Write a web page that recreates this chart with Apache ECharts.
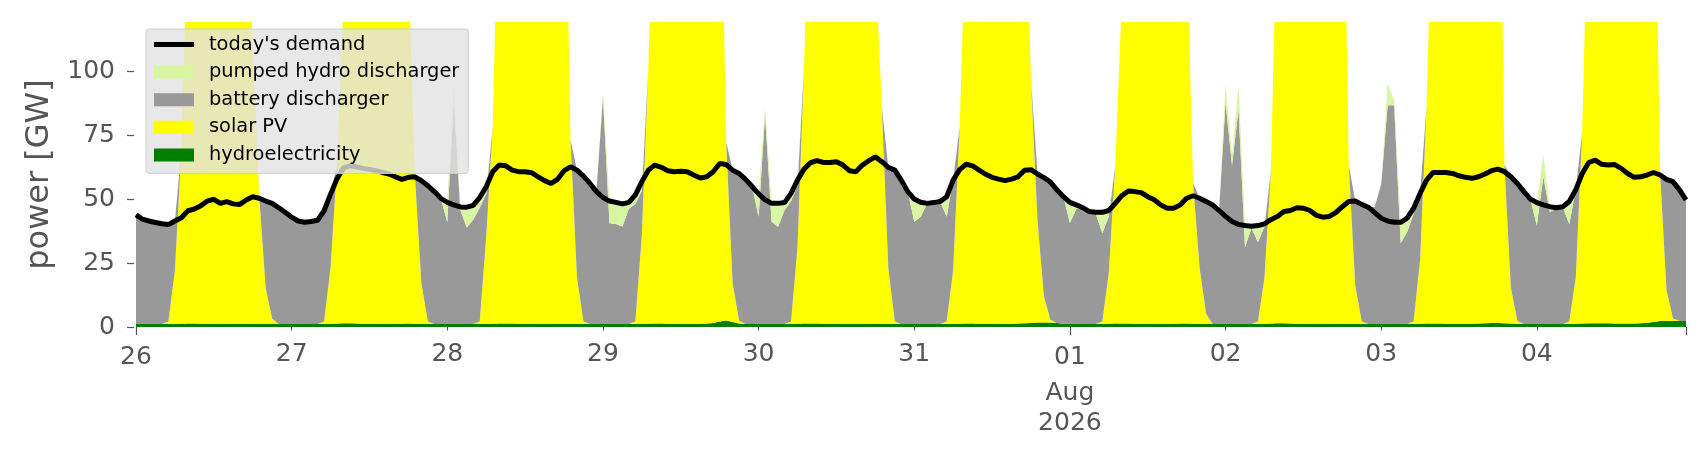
<!DOCTYPE html>
<html>
<head>
<meta charset="utf-8">
<script src="https://cdn.jsdelivr.net/npm/echarts@6/dist/echarts.min.js"></script>
<style>
html,body{margin:0;padding:0;background:#ffffff;}
#chart{width:1706px;height:460px;}
</style>
</head>
<body>
<div id="chart"></div>
<script>
// ---- tick labels ----
const dayLabels = ['26','27','28','29','30','31','01','02','03','04'];
const monthLabel = 'Aug';
const yearLabel = '2026';
const yTickValues = [0, 25, 50, 75, 100];

// ---- hourly series values (GW), one row per day, 26 Jul .. 04 Aug ----
const demand = [
 43.9,42.2,41.5,40.9,40.4,40.1,41.5,42.8,45.5,46.2,47.5,49.3,50.0,48.4,49.1,48.2,48.0,49.7,51.0,50.4,49.3,48.4,46.7,44.9,
 43.0,41.5,41.0,41.3,41.8,45.5,52.0,58.0,62.3,63.1,62.7,62.1,61.7,61.2,60.5,59.9,58.8,57.8,58.6,58.8,57.3,55.3,53.0,50.4,
 48.8,47.8,47.0,46.9,47.6,50.7,54.9,60.8,63.4,63.1,61.4,60.8,60.8,60.4,58.8,57.3,56.2,57.8,61.2,62.7,61.4,59.1,56.2,53.0,
 50.7,49.3,48.8,48.2,48.8,51.7,56.9,61.4,63.4,62.5,61.2,60.8,61.0,60.8,59.5,58.3,58.8,60.8,64.0,63.6,61.4,60.1,57.8,55.0,
 52.1,49.8,48.4,48.4,48.7,52.3,57.5,61.8,64.3,65.1,64.4,64.4,64.7,63.4,61.2,60.8,63.4,65.1,66.6,64.7,62.5,61.4,57.5,53.0,
 50.1,48.8,48.4,48.7,49.1,51.0,57.5,61.6,63.7,63.1,61.4,59.8,58.6,57.9,57.3,57.9,58.8,61.4,61.6,59.9,58.5,56.7,53.7,51.0,
 48.8,47.8,46.7,45.2,44.9,44.9,45.6,48.4,51.4,53.2,53.0,52.6,51.0,49.8,47.8,46.5,46.5,47.8,50.4,51.4,50.4,49.1,47.8,45.6,
 43.3,41.3,40.1,39.7,39.4,39.7,40.4,42.0,43.3,45.2,45.6,46.7,46.5,45.6,43.7,43.0,43.3,44.8,47.1,49.1,49.3,48.0,46.9,44.8,
 42.6,41.5,41.0,41.0,42.6,46.5,52.3,57.5,60.5,60.5,60.5,60.1,59.2,58.6,58.2,58.8,59.9,61.2,61.8,60.8,58.8,56.2,53.0,50.1,
 48.7,47.8,47.1,46.7,47.1,49.1,53.7,60.1,64.4,65.3,63.7,63.4,63.6,62.1,60.1,58.6,58.8,59.5,60.5,59.5,57.8,56.9,53.7,49.8
];
const hydroelectricity = [
 1.2,1.2,1.2,1.2,1.2,1.2,1.2,1.3,1.4,1.4,1.3,1.3,1.2,1.2,1.2,1.3,1.3,1.3,1.2,1.2,1.2,1.2,1.2,1.2,
 1.2,1.2,1.2,1.2,1.2,1.2,1.3,1.4,1.5,1.5,1.4,1.3,1.3,1.3,1.2,1.2,1.2,1.3,1.4,1.3,1.2,1.2,1.2,1.2,
 1.2,1.2,1.2,1.2,1.2,1.2,1.2,1.3,1.4,1.4,1.4,1.3,1.3,1.2,1.2,1.2,1.2,1.3,1.3,1.2,1.2,1.2,1.2,1.2,
 1.2,1.2,1.2,1.2,1.2,1.2,1.2,1.3,1.4,1.4,1.3,1.3,1.2,1.2,1.2,1.3,1.4,1.6,2.2,2.5,2.0,1.4,1.2,1.2,
 1.2,1.2,1.2,1.2,1.2,1.2,1.3,1.4,1.4,1.4,1.3,1.3,1.2,1.2,1.2,1.2,1.2,1.3,1.3,1.2,1.2,1.2,1.2,1.2,
 1.2,1.2,1.2,1.2,1.2,1.2,1.2,1.3,1.4,1.4,1.3,1.3,1.2,1.2,1.2,1.3,1.4,1.5,1.6,1.8,1.8,1.8,1.6,1.3,
 1.2,1.2,1.2,1.2,1.2,1.2,1.3,1.4,1.4,1.4,1.3,1.3,1.2,1.2,1.2,1.2,1.3,1.4,1.4,1.3,1.2,1.2,1.2,1.2,
 1.2,1.2,1.2,1.2,1.2,1.2,1.3,1.4,1.5,1.5,1.4,1.3,1.3,1.2,1.2,1.2,1.2,1.3,1.3,1.2,1.2,1.2,1.2,1.2,
 1.2,1.2,1.2,1.2,1.2,1.2,1.3,1.4,1.4,1.4,1.3,1.3,1.3,1.3,1.3,1.4,1.5,1.6,1.6,1.5,1.4,1.3,1.2,1.2,
 1.2,1.2,1.2,1.2,1.2,1.2,1.3,1.4,1.5,1.5,1.5,1.5,1.4,1.4,1.4,1.4,1.5,1.7,2.0,2.3,2.3,2.3,2.3,2.3
];
const solarPV = [
 0,0,0,0,0,1,21,68,160,230,270,290,300,295,280,250,210,170,110,50,14,2,0,0,
 0,0,0,0,0,1,22,62,126,220,270,290,300,295,280,250,210,190,140,58,16,1,0,0,
 0,0,0,0,0,1,34,77,183,250,280,300,305,300,285,260,240,230,211,72,18,1,0,0,
 0,0,0,0,0,1,35,100,190,250,280,300,305,300,285,260,240,230,211,70,15,1,0,0,
 0,0,0,0,0,1,30,100,190,250,280,300,305,300,285,260,210,170,142,85,22,1,0,0,
 0,0,0,0,0,1,21,77,160,240,275,295,300,295,280,250,215,180,95,40,10,1,0,0,
 0,0,0,0,0,1,20,62,126,220,260,285,295,290,275,250,210,180,150,55,22,4,0,0,
 0,0,0,0,0,1,18,60,170,240,275,295,300,295,280,260,240,230,220,62,15,1,0,0,
 0,0,0,0,0,1,25,85,180,245,280,300,305,300,285,270,265,262,260,62,14,1,0,0,
 0,0,0,0,0,1,18,75,180,245,280,300,305,300,285,265,245,230,220,58,12,1,0,0
];
const batteryDischarger = [
 42.7,41.0,40.3,39.7,39.2,37.9,19.3,0,0,0,0,0,0,0,0,0,0,0,0,0,34.1,45.2,45.5,43.7,
 41.8,40.3,39.8,40.1,40.6,43.3,28.8,0,0,0,0,0,0,0,0,0,0,0,0,0,40.1,53.1,51.8,49.2,
 39.8,88.0,44.6,37.8,40.8,44.5,17.0,0,0,0,0,0,0,0,0,0,0,0,0,0,42.2,56.9,55.0,51.8,
 89.0,39.4,39.1,38.1,45.1,46.0,17.0,0,0,0,0,0,0,0,0,0,0,0,0,0,44.4,57.9,56.6,53.8,
 42.0,82.0,40.0,38.0,44.5,47.0,24.0,0,0,0,0,0,0,0,0,0,0,0,0,0,39.3,59.2,56.3,51.8,
 40.0,42.0,47.2,47.5,47.9,41.0,35.3,0,0,0,0,0,0,0,0,0,0,0,0,18.7,47.3,53.9,51.9,49.8,
 39.5,45.0,45.5,44.0,43.0,34.5,22.0,0,0,0,0,0,0,0,0,0,0,0,0,0,27.2,43.9,46.6,44.4,
 86.8,62.0,84.0,30.0,37.6,31.0,20.0,0,0,0,0,0,0,0,0,0,0,0,0,0,33.1,45.8,45.7,45.8,
 54.8,85.6,85.6,31.6,36.0,42.0,26.1,0,0,0,0,0,0,0,0,0,0,0,0,0,43.6,54.0,51.8,48.9,
 38.5,57.6,43.8,45.1,45.9,38.0,34.5,0,0,0,0,0,0,0,0,0,0,0,0,0.3,43.5,53.6,51.4,47.5
];
const pumpedHydro = [
 0,0,0,0,0,0,0,0,0,0,0,0,0,0,0,0,0,0,0,0,0,0,0,0,
 0,0,0,0,0,0,0,0,0,0,0,0,0,0,0,0,0,0,0,0,0,0,0,0,
 7.8,5.0,1.2,7.9,5.6,4.0,2.7,0,0,0,0,0,0,0,0,0,0,0,0,0,0,0,0,0,
 1.5,8.7,8.5,8.9,2.5,3.5,3.7,0,0,0,0,0,0,0,0,0,0,0,0,0,0,0,0,0,
 8.9,3.0,7.2,9.2,3.0,3.1,2.3,0,0,0,0,0,0,0,0,0,0,0,0,0,0,0,0,0,
 8.9,5.6,0,0,0,7.8,0,0,0,0,0,0,0,0,0,0,0,0,0,0,0,0,0,0,
 8.1,1.6,0,0,0.7,8.2,2.4,0,0,0,0,0,0,0,0,0,0,0,0,0,0,0,0,0,
 7.3,4.0,9.3,8.5,0.6,6.5,1.2,0,0,0,0,0,0,0,0,0,0,0,0,0,0,0,0,0,
 0,8.5,2.0,8.2,5.4,2.3,0,0,0,0,0,0,0,0,0,0,0,0,0,0,0,0,0,0,
 9.0,8.5,2.1,0.4,0,8.9,0,0,0,0,0,0,0,0,0,0,0,0,0,0,0,0,0,0
];

// ---- hourly categories (built from start time) ----
const startUTC = Date.UTC(2026, 6, 26, 0, 0);
const hours = demand.map((_, i) => new Date(startUTC + i * 3600000).toISOString().slice(0, 16).replace('T', ' '));
const lastIdx = hours.length - 1;
const majorIdx = [0, 6 * 24, lastIdx];

const FONT = 'DejaVu Sans';
const TXT = '#555555';
const LINE_ICON = 'path://M0,0L0,0M0,4L40,4L40,9L0,9ZM40,13L40,13';

function xLabel(value, index) {
  const d = dayLabels[index / 24];
  if (index === 6 * 24) return '{maj|' + d + '}\n{sub|' + monthLabel + '}\n{sub2|' + yearLabel + '}';
  if (index === 0) return '{maj|' + d + '}';
  return '{min|' + d + '}';
}

const areaSeries = (name, data, color) => ({
  name, type: 'line', stack: 'supply', data,
  symbol: 'none', smooth: false, color,
  lineStyle: { width: 0 },
  areaStyle: { color, opacity: 1 },
  itemStyle: { color },
  z: 2, clip: true
});

const chart = echarts.init(document.getElementById('chart'), null, { renderer: 'canvas' });
chart.setOption({
  animation: false,
  backgroundColor: '#ffffff',
  grid: { left: 136, right: 20, top: 22, bottom: 133 },
  legend: {
    orient: 'vertical', left: 146, top: 29,
    padding: [6, 9, 9, 8], itemGap: 8.6, itemWidth: 40, itemHeight: 13,
    backgroundColor: 'rgba(226,226,226,0.8)', borderColor: '#cfcfcf', borderWidth: 1, borderRadius: 3,
    textStyle: { fontSize: 19.4, color: '#000000', fontFamily: FONT, padding: [0, 0, 0, 10] },
    selectedMode: false,
    data: [
      { name: "today's demand", icon: LINE_ICON, itemStyle: { color: '#000000' } },
      { name: 'pumped hydro discharger', icon: 'rect' },
      { name: 'battery discharger', icon: 'rect' },
      { name: 'solar PV', icon: 'rect' },
      { name: 'hydroelectricity', icon: 'rect' }
    ]
  },
  xAxis: [
    {
      type: 'category', data: hours, boundaryGap: false,
      axisLine: { show: false }, splitLine: { show: false },
      axisTick: { show: true, length: 3.5, interval: (i) => i % 24 === 0 && majorIdx.indexOf(i) < 0, lineStyle: { color: TXT, width: 1 } },
      axisLabel: {
        interval: (i) => i % 24 === 0, formatter: xLabel, margin: 15,
        color: TXT, fontSize: 25, fontFamily: FONT,
        rich: {
          min: { fontSize: 25, lineHeight: 25, color: TXT, fontFamily: FONT },
          maj: { fontSize: 25, lineHeight: 31, color: TXT, fontFamily: FONT },
          sub: { fontSize: 25, lineHeight: 41, color: TXT, fontFamily: FONT },
          sub2: { fontSize: 25, lineHeight: 19, color: TXT, fontFamily: FONT }
        }
      }
    },
    {
      type: 'category', data: hours, boundaryGap: false, position: 'bottom',
      axisLine: { show: false }, splitLine: { show: false },
      axisTick: { show: true, length: 8, interval: (i) => majorIdx.indexOf(i) >= 0, lineStyle: { color: TXT, width: 1.2 } },
      axisLabel: { show: false }
    }
  ],
  yAxis: {
    type: 'value', min: 0, max: 119.4, interval: 25, offset: 2,
    axisLine: { show: false }, splitLine: { show: false },
    axisTick: { show: true, length: 7, customValues: yTickValues, lineStyle: { color: TXT, width: 1.2 } },
    axisLabel: { customValues: yTickValues, color: TXT, fontSize: 25, fontFamily: FONT, margin: 19 },
    name: 'power [GW]', nameLocation: 'middle', nameGap: 78,
    nameTextStyle: { fontSize: 32, color: TXT, fontFamily: FONT }
  },
  series: [
    areaSeries('hydroelectricity', hydroelectricity, '#008000'),
    areaSeries('solar PV', solarPV, '#ffff00'),
    areaSeries('battery discharger', batteryDischarger, '#999999'),
    areaSeries('pumped hydro discharger', pumpedHydro, '#d8f5a2'),
    {
      name: "today's demand", type: 'line', data: demand, symbol: 'none', smooth: false,
      color: '#000000', lineStyle: { width: 5, color: '#000000' }, itemStyle: { color: '#000000' },
      z: 3, clip: true
    }
  ]
});
</script>
</body>
</html>
